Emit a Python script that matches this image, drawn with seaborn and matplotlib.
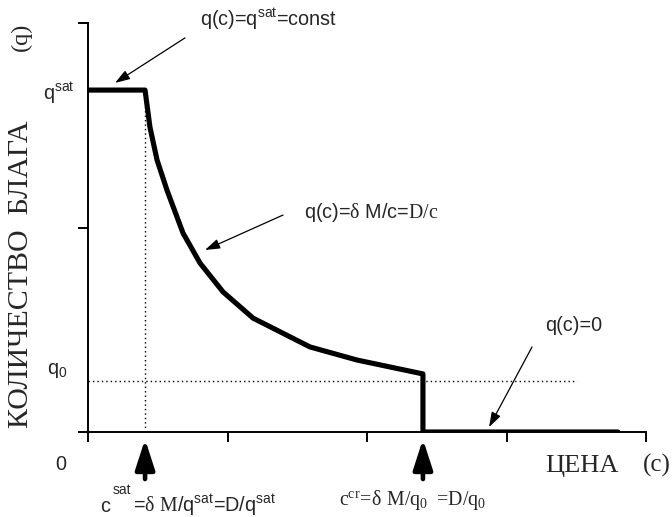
import matplotlib
matplotlib.use("Agg")
import matplotlib.pyplot as plt
from matplotlib.patches import ArrowStyle
import seaborn as sns
import numpy as np

# ---- data ----
price = [0.0, 0.409, 0.444, 0.495, 0.566, 0.681, 0.803, 0.968, 1.183,
         1.591, 1.928, 2.401, 2.401, 3.799]
quantity = [1.672, 1.672, 1.491, 1.330, 1.183, 0.973, 0.826, 0.685, 0.557,
            0.416, 0.352, 0.284, 0.0, 0.0]
q_sat = 1.672
q_zero = 0.249
c_sat = 0.409
c_cr = 2.401
q0_line_end = 3.505
x_ticks = [0, 1, 2, 3, 4]
y_ticks = [0, 1, 2]

sns.set_style("ticks")
plt.rcParams["font.family"] = ["Liberation Sans", "DejaVu Sans"]
plt.rcParams["mathtext.fontset"] = "custom"
plt.rcParams["mathtext.rm"] = "Liberation Sans"
plt.rcParams["mathtext.it"] = "Liberation Sans"
plt.rcParams["mathtext.sf"] = "Liberation Serif"

W, H = 672, 517
fig = plt.figure(figsize=(W / 100, H / 100), dpi=100)
fig.patch.set_facecolor("white")
ax = fig.add_axes([88 / W, 1 - 432 / H, (646 - 88) / W, (432 - 23) / H])


def px(x, y):
    return (x / W, 1 - y / H)


sns.lineplot(x=price, y=quantity, sort=False, estimator=None, ax=ax,
             color="black", linewidth=3.7)
ax.plot([c_sat, c_sat], [0, q_sat], color="black", lw=1.0,
        linestyle=(0, (1, 2.2)))
ax.plot([0, q0_line_end], [q_zero, q_zero], color="black", lw=1.0,
        linestyle=(0, (1, 2.2)))

ax.set_xlim(0, 4)
ax.set_ylim(0, 2)
ax.set_xticks(x_ticks)
ax.set_yticks(y_ticks)
ax.set_xticklabels([])
ax.set_yticklabels([])
ax.tick_params(axis="both", direction="out", length=7, width=1.4,
               color="black")
for s in ["top", "right"]:
    ax.spines[s].set_visible(False)
for s in ["left", "bottom"]:
    ax.spines[s].set_linewidth(1.4)
    ax.spines[s].set_color("black")
ax.set_xlabel("")
ax.set_ylabel("")
ax.set_facecolor("white")

fs = 14.3
# axis labels
fig.text(*px(21, 274), "КОЛИЧЕСТВО  БЛАГА", rotation=90, ha="center",
         va="center", fontsize=21.5, family="Liberation Serif")
fig.text(*px(21, 37), "(q)", rotation=90, ha="center", va="center",
         fontsize=17.5, family="Liberation Serif")
fig.text(*px(545, 472), "ЦЕНА", ha="left", va="baseline", fontsize=19,
         family="Liberation Serif")
fig.text(*px(643, 472), "(c)", ha="left", va="baseline", fontsize=18,
         family="Liberation Serif")

# left labels
fig.text(*px(43, 100), r"q$^{\rm sat}$", ha="left", va="baseline", fontsize=fs)
fig.text(*px(47, 374), r"q$_{\rm 0}$", ha="left", va="baseline", fontsize=fs)
fig.text(*px(55, 470), "0", ha="left", va="baseline", fontsize=fs)

# curve annotations
fig.text(*px(200, 26), r"q(c)=q$^{\rm sat}$=const", ha="left",
         va="baseline", fontsize=fs)
fig.text(*px(304, 218), r"q(c)=$\mathsf{\delta}$ M/c=$\mathsf{D/c}$",
         ha="left", va="baseline", fontsize=fs)
fig.text(*px(545, 331), "q(c)=0", ha="left", va="baseline", fontsize=fs)

thin = ArrowStyle("-|>", head_length=0.9, head_width=0.3)
for (x0, y0), (x1, y1) in [((0.695, 1.927), (0.194, 1.707)),
                           ((1.398, 1.061), (0.839, 0.890)),
                           ((3.183, 0.416), (2.875, 0.024))]:
    ax.annotate("", xy=(x1, y1), xytext=(x0, y0),
                arrowprops=dict(arrowstyle=thin, lw=0.9, color="black",
                                mutation_scale=10, shrinkA=0, shrinkB=0),
                annotation_clip=False)

thick = ArrowStyle("-|>", head_length=1.3, head_width=0.42)
for cx in [c_sat, c_cr]:
    ax.annotate("", xy=(cx, -0.035), xytext=(cx, -0.23),
                arrowprops=dict(arrowstyle=thick, lw=3.3, color="black",
                                mutation_scale=14, shrinkA=0, shrinkB=0),
                annotation_clip=False)

# bottom formulas
fig.text(*px(100, 512), "c", ha="left", va="baseline", fontsize=fs)
fig.text(*px(113, 494), "sat", ha="left", va="baseline", fontsize=10)
fig.text(*px(133, 512),
         r"=$\mathsf{\delta\ M}$/q$^{\rm sat}$=D/q$^{\rm sat}$",
         ha="left", va="baseline", fontsize=fs)
fig.text(*px(413, 505),
         r"$\mathsf{c^{cr}\!=\!\delta\ M/q_0\ =\!D/q_0}$",
         ha="center", va="baseline", fontsize=fs)

fig.savefig("out.png", dpi=100, facecolor="white")
